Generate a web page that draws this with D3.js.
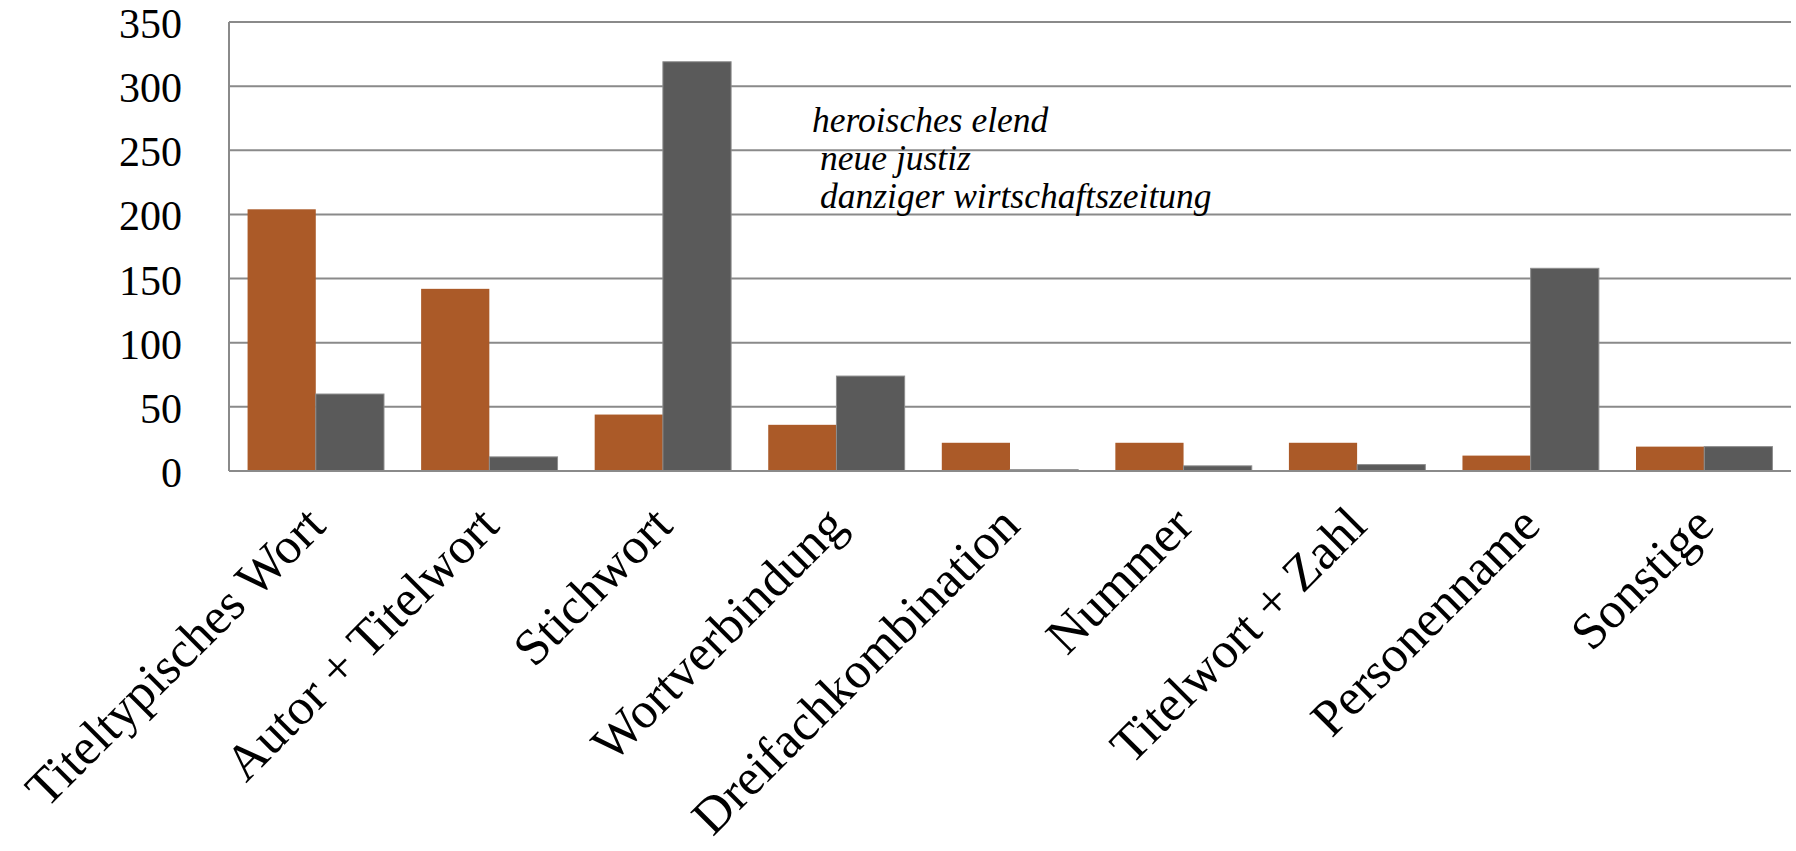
<!DOCTYPE html>
<html>
<head>
<meta charset="utf-8">
<script src="https://cdn.jsdelivr.net/npm/d3@7"></script>
<style>
  html, body { margin: 0; padding: 0; background: #fff; }
  svg { display: block; }
</style>
</head>
<body>
<svg id="chart" width="1796" height="851"></svg>
<script>
const categories = ["Titeltypisches Wort", "Autor + Titelwort", "Stichwort", "Wortverbindung",
  "Dreifachkombination", "Nummer", "Titelwort + Zahl", "Personenname", "Sonstige"];
const seriesA = [204, 142, 44, 36, 22, 22, 22, 12, 19];   // orange
const seriesB = [60, 11, 319, 74, 1, 4, 5, 158, 19];      // dark gray
const yTicks = [0, 50, 100, 150, 200, 250, 300, 350];
const annotation = ["heroisches elend", "neue justiz", "danziger wirtschaftszeitung"];

const W = 1796, H = 851;
const margin = { top: 22, right: 5, bottom: 380, left: 229 };
const innerW = W - margin.left - margin.right;
const innerH = H - margin.top - margin.bottom;

const svg = d3.select("#chart");
const g = svg.append("g").attr("transform", `translate(${margin.left},${margin.top})`);

const x0 = d3.scaleBand().domain(categories).range([0, innerW]).paddingInner(0.214).paddingOuter(0.107);
const x1 = d3.scaleBand().domain(["A", "B"]).range([0, x0.bandwidth()]);
const y = d3.scaleLinear().domain([0, 350]).range([innerH, 0]);

const gridColor = "#8a8a8a";
const serif = "'Liberation Serif', 'Times New Roman', serif";

// gridlines
g.append("g").selectAll("line").data(yTicks).join("line")
  .attr("x1", 0).attr("x2", innerW)
  .attr("y1", d => y(d)).attr("y2", d => y(d))
  .attr("stroke", gridColor).attr("stroke-width", 2);

// y axis line
g.append("line").attr("x1", 0).attr("x2", 0).attr("y1", y(350)).attr("y2", y(0))
  .attr("stroke", gridColor).attr("stroke-width", 2);

// y tick labels
g.append("g").selectAll("text").data(yTicks).join("text")
  .attr("x", -47).attr("y", d => y(d) + 16)
  .attr("text-anchor", "end")
  .attr("font-family", serif).attr("font-size", 42).attr("fill", "#000")
  .text(d => d);

// bars
const groups = g.append("g").selectAll("g").data(categories).join("g")
  .attr("transform", d => `translate(${x0(d)},0)`);
groups.append("rect")
  .attr("x", x1("A")).attr("width", x1.bandwidth())
  .attr("y", (d, i) => y(seriesA[i])).attr("height", (d, i) => y(0) - y(seriesA[i]))
  .attr("fill", "#ab5a28");
groups.append("rect")
  .attr("x", x1("B")).attr("width", x1.bandwidth())
  .attr("y", (d, i) => y(seriesB[i])).attr("height", (d, i) => y(0) - y(seriesB[i]))
  .attr("fill", "#5a5a5a").attr("stroke", "#8c8c8c").attr("stroke-width", 1);

// baseline on top
g.append("line").attr("x1", 0).attr("x2", innerW).attr("y1", y(0)).attr("y2", y(0))
  .attr("stroke", gridColor).attr("stroke-width", 2);

// x labels rotated
const xl = g.append("g").selectAll("text").data(categories).join("text")
  .attr("text-anchor", "end")
  .attr("font-family", serif).attr("font-size", 50).attr("fill", "#000")
  .attr("transform", d => `translate(${x0(d) + x0.bandwidth() / 2 + 12},${innerH + 57}) rotate(-45)`)
  .text(d => d);
// scale font so the first label matches the reference length
const len0 = xl.node().getComputedTextLength();
const fs = 50 * 398 / len0;
xl.attr("font-size", fs);

// annotation
const ann = svg.append("g").attr("font-family", serif).attr("font-style", "italic")
  .attr("font-size", 35.5).attr("fill", "#000");
const annX = [812, 820, 820];
const annY = [132, 170, 208];
annotation.forEach((t, i) => {
  ann.append("text").attr("x", annX[i]).attr("y", annY[i]).text(t);
});
</script>
</body>
</html>
